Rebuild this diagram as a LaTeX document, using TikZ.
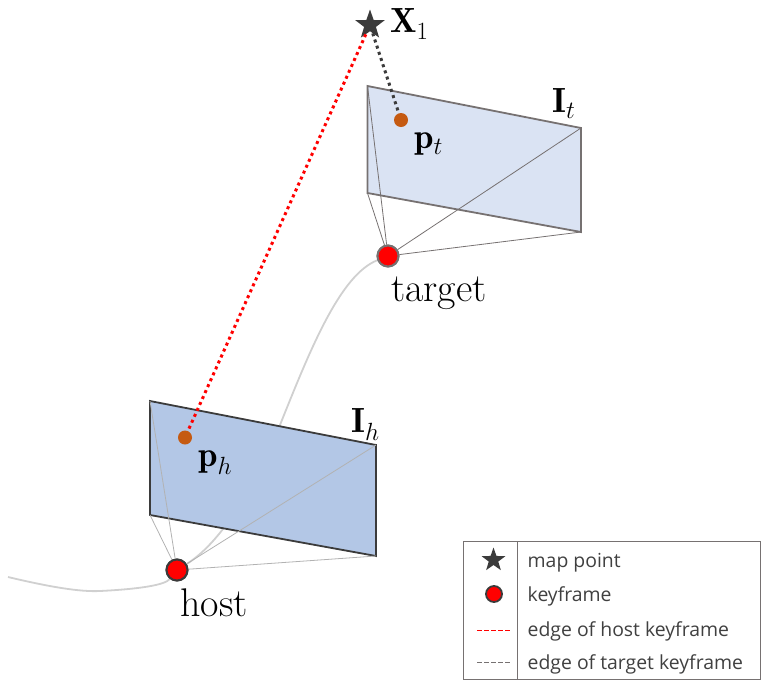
\documentclass[tikz,border=0pt]{standalone}
\usepackage{amsmath,amssymb,amsfonts}
\usepackage{xcolor}
\usepackage{fontspec}
\newfontfamily\legendfont{Open Sans}
\usepackage{tikz}
\usetikzlibrary{positioning}
\usetikzlibrary{shapes.geometric}
\definecolor{hostblue}{HTML}{B3C7E6}
\definecolor{targetblue}{HTML}{DAE3F3}
\definecolor{pointorange}{HTML}{C55A11}
\definecolor{darkline}{HTML}{3B3B3B}
\definecolor{midline}{HTML}{767171}
\definecolor{pathgray}{HTML}{D0D0D0}
\definecolor{legendtext}{HTML}{404040}

\begin{document}
\begin{tikzpicture}[x=1pt, y=-1pt,
  mappoint/.style={star, star points=5, star point ratio=2.5, fill=darkline, inner sep=0pt, minimum size=#1},
  keyframe/.style={circle, draw=#1, line width=2pt, fill=red, inner sep=0pt, minimum size=21pt},
  feature/.style={circle, fill=pointorange, inner sep=0pt, minimum size=14pt},
  biglabel/.style={font=\fontsize{40}{46}\selectfont},
  mathlabel/.style={font=\fontsize{35}{42}\selectfont},
  legendlabel/.style={font=\legendfont\fontsize{19.4}{23}\selectfont, text=legendtext, anchor=base west, inner sep=0pt},
  ray/.style={line width=0.8pt}]

\useasboundingbox (0,0) rectangle (768,681);

\coordinate (pathstart) at (8,577);
\coordinate (hostTL) at (150,401);
\coordinate (hostBL) at (150,515);
\coordinate (hostTR) at (376,445);
\coordinate (hostBR) at (376,556);
\coordinate (targetTL) at (367.5,86);
\coordinate (targetBL) at (367.5,193);
\coordinate (targetTR) at (581,128);
\coordinate (targetBR) at (581,232);

\node (host) [keyframe=darkline] at (177,570) {};
\node (target) [keyframe=midline] at (388,256) {};

% trajectory
\draw[pathgray, line width=1.8pt] (pathstart) .. controls (50,587) and (80,592) .. (100,591) .. controls (140,589) and (165,585) .. (host);
\draw[pathgray, line width=1.8pt] (host) .. controls (225,540) and (260,475) .. (280,425) .. controls (310,350) and (340,275) .. (target);

% image planes
\draw[darkline, line width=1.8pt, fill=hostblue] (hostTL) -- (hostTR) -- (hostBR) -- (hostBL) -- cycle;
\draw[midline, line width=1.8pt, fill=targetblue] (targetTL) -- (targetTR) -- (targetBR) -- (targetBL) -- cycle;

% view frustums
\foreach \corner in {hostTL, hostBL, hostTR, hostBR}
  \draw[ray, black!30] (host) -- (\corner);
\foreach \corner in {targetTL, targetBL, targetTR, targetBR}
  \draw[ray, midline] (target) -- (\corner);

\node (host) [keyframe=darkline] at (177,570) {};
\node (target) [keyframe=midline] at (388,256) {};

\node (mappoint) [mappoint=31pt] at (370,25) {};
\node (ph) [feature] at (185,437.5) {};
\node (pt) [feature] at (401,120) {};

\draw[red, line width=3pt, dash pattern=on 3pt off 3.5pt] (mappoint) -- (ph);
\draw[darkline, line width=3pt, dash pattern=on 3pt off 3.5pt] (mappoint) -- (pt);

\node (labelX) [mathlabel, anchor=base west, inner sep=0pt] at (390,32) {$\mathbf{X}_1$};
\node (labelIt) [mathlabel, anchor=base west, inner sep=0pt] at (552,112) {$\mathbf{I}_t$};
\node (labelIh) [mathlabel, anchor=base west, inner sep=0pt] at (351,432) {$\mathbf{I}_h$};
\node (labelpt) [mathlabel, anchor=base west, inner sep=0pt] at (414,148) {$\mathbf{p}_t$};
\node (labelph) [mathlabel, anchor=base west, inner sep=0pt] at (198,466) {$\mathbf{p}_h$};
\node (labelhost) [biglabel, anchor=base west, inner sep=0pt] at (180,616) {host};
\node (labeltarget) [biglabel, anchor=base west, inner sep=0pt] at (391,301) {target};

% legend
\node (legendbox) [draw=midline, line width=0.8pt, minimum width=297pt, minimum height=138pt, inner sep=0pt] at (611.5,610) {};
\coordinate (dividertop) at (517,541);
\coordinate (dividerbottom) at (517,679);
\draw[midline, line width=0.8pt] (dividertop) -- (dividerbottom);

\node (legendstar) [mappoint=25pt] at (493.5,560) {};
\node (legendkey) [circle, draw=darkline, line width=1.8pt, fill=red, inner sep=0pt, minimum size=16pt] at (494,594) {};
\coordinate (hostdashA) at (477,630);
\coordinate (hostdashB) at (510,630);
\coordinate (targetdashA) at (477,662);
\coordinate (targetdashB) at (510,662);
\draw[red, line width=0.8pt, dash pattern=on 4.5pt off 2.5pt] (hostdashA) -- (hostdashB);
\draw[midline, line width=0.8pt, dash pattern=on 4.5pt off 2.5pt] (targetdashA) -- (targetdashB);

\node (legendA) [legendlabel] at (527.5,567) {map point};
\node (legendB) [legendlabel] at (527.5,601) {keyframe};
\node (legendC) [legendlabel] at (527.5,636) {edge of host keyframe};
\node (legendD) [legendlabel] at (527.5,669) {edge of target keyframe};

\end{tikzpicture}
\end{document}
